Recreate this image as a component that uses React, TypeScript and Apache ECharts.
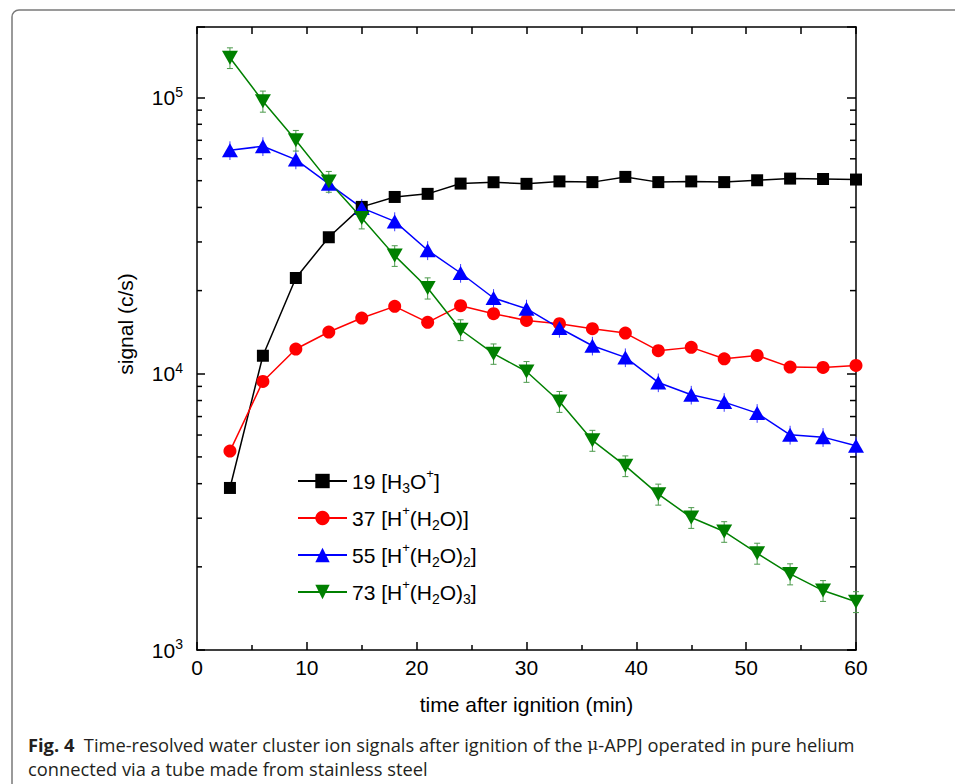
import React, { useEffect, useRef } from 'react';
import * as echarts from 'echarts';

const times = [3, 6, 9, 12, 15, 18, 21, 24, 27, 30, 33, 36, 39, 42, 45, 48, 51, 54, 57, 60];
const h3o = [3860, 11620, 22220, 31200, 40180, 43650, 44800, 48800, 49350, 48700, 49700, 49400, 51600, 49400, 49700, 49400, 50170, 50870, 50700, 50470];
const h2o1 = [5250, 9380, 12290, 14160, 15910, 17540, 15350, 17640, 16500, 15600, 15180, 14560, 14040, 12120, 12460, 11330, 11650, 10570, 10540, 10720];
const h2o2 = [64400, 66600, 59600, 48700, 39850, 35600, 27990, 23160, 18800, 17200, 14640, 12630, 11460, 9300, 8390, 7895, 7203, 6012, 5896, 5484];
const h2o3 = [139300, 97000, 70000, 49700, 36650, 26770, 20440, 14430, 11820, 10190, 7937, 5740, 4642, 3665, 3016, 2684, 2240, 1886, 1641, 1496];
// error bar half-widths (estimated)
const h2o2Err = [5000, 5200, 4600, 3800, 3100, 2800, 2200, 1800, 1450, 1330, 1130, 980, 890, 720, 650, 610, 560, 470, 460, 430];
const h2o3Err = [12000, 8500, 6000, 4300, 3200, 2300, 1800, 1250, 1000, 880, 690, 500, 400, 320, 260, 230, 195, 165, 142, 130];

const seriesNames = ['19', '37', '55', '73'];
const legendLabels: Record<string, string> = {
  '19': '19 [H{sub|3}O{sup|+}]',
  '37': '37 [H{sup|+}(H{sub|2}O)]',
  '55': '55 [H{sup|+}(H{sub|2}O){sub|2}]',
  '73': '73 [H{sup|+}(H{sub|2}O){sub|3}]',
};
const xMin = 0;
const xMax = 60;
const yMin = 1000;
const yMax = 180000;
const logMinorTicks = [2000, 3000, 4000, 5000, 6000, 7000, 8000, 9000, 20000, 30000, 40000, 50000, 60000, 70000, 80000, 90000];

const xTitle = 'time after ignition (min)';
const yTitle = 'signal (c/s)';
const captionLine1 = '{b|Fig. 4}  Time-resolved water cluster ion signals after ignition of the {m|μ}-APPJ operated in pure helium';
const captionLine2 = 'connected via a tube made from stainless steel';

const FONT = '"Liberation Sans", Arial, Helvetica, sans-serif';
const CAP_FONT = '"Open Sans", sans-serif';

export default function App() {
  const ref = useRef<HTMLDivElement>(null);
  useEffect(() => {
    if (!ref.current) return;
    const chart = echarts.init(ref.current, undefined, { renderer: 'svg' });
    const mk = (arr: number[]) => times.map((t, i) => [t, arr[i]]);
    const lineBase = (name: string, color: string, data: number[], symbol: string, size: any, rotate = 0) => ({
      name,
      type: 'line',
      data: mk(data),
      symbol,
      symbolSize: size,
      symbolRotate: rotate,
      lineStyle: { color, width: 1.5 },
      itemStyle: { color },
      xAxisIndex: 0,
      yAxisIndex: 0,
      z: 4,
    });
    const errSeries = (vals: number[], errs: number[], color: string, cap: number) => ({
      type: 'custom',
      silent: true,
      xAxisIndex: 0,
      yAxisIndex: 0,
      z: 3,
      encode: { x: 0, y: [1, 2] },
      data: times.map((t, i) => [t, vals[i] - errs[i], vals[i] + errs[i]]),
      renderItem: (params: any, api: any) => {
        const lo = api.coord([api.value(0), api.value(1)]);
        const hi = api.coord([api.value(0), api.value(2)]);
        const st = { stroke: color, lineWidth: 1 };
        const children: any[] = [
          { type: 'line', shape: { x1: lo[0], y1: lo[1], x2: hi[0], y2: hi[1] }, style: st },
        ];
        if (cap > 0) {
          children.push({ type: 'line', shape: { x1: lo[0] - cap / 2, y1: lo[1], x2: lo[0] + cap / 2, y2: lo[1] }, style: st });
          children.push({ type: 'line', shape: { x1: hi[0] - cap / 2, y1: hi[1], x2: hi[0] + cap / 2, y2: hi[1] }, style: st });
        }
        return { type: 'group', children };
      },
    });
    const tickStyle = { color: '#000', width: 1.5 };
    chart.setOption({
      animation: false,
      backgroundColor: '#fff',
      grid: { left: 197, top: 27, width: 659, height: 623, containLabel: false },
      legend: {
        orient: 'vertical',
        left: 297,
        top: 467,
        padding: 0,
        itemWidth: 49,
        itemHeight: 18,
        itemGap: 9,
        data: seriesNames,
        formatter: (n: string) => legendLabels[n],
        textStyle: {
          fontFamily: FONT,
          fontSize: 21,
          lineHeight: 28,
          color: '#000',
          rich: {
            sub: { fontFamily: FONT, fontSize: 14, lineHeight: 14, verticalAlign: 'bottom', color: '#000' },
            sup: { fontFamily: FONT, fontSize: 13, lineHeight: 21, verticalAlign: 'top', color: '#000' },
          },
        },
      },
      xAxis: [
        {
          type: 'value',
          position: 'bottom',
          min: xMin,
          max: xMax,
          interval: 10,
          axisLine: { show: true, onZero: false, lineStyle: tickStyle },
          axisTick: { show: true, inside: true, length: 8, lineStyle: tickStyle },
          minorTick: { show: true, splitNumber: 2, length: 5, lineStyle: tickStyle },
          splitLine: { show: false },
          axisLabel: { color: '#000', fontFamily: FONT, fontSize: 21, margin: 7 },
          name: xTitle,
          nameLocation: 'middle',
          nameGap: 44,
          nameTextStyle: { color: '#000', fontFamily: FONT, fontSize: 21 },
        },
        {
          type: 'value',
          position: 'top',
          min: xMin,
          max: xMax,
          interval: 5,
          axisLine: { show: true, onZero: false, lineStyle: tickStyle },
          axisTick: { show: true, inside: true, length: 7, lineStyle: tickStyle },
          splitLine: { show: false },
          axisLabel: { show: false },
        },
      ],
      yAxis: [
        {
          type: 'log',
          logBase: 10,
          position: 'left',
          min: yMin,
          max: yMax,
          axisLine: { show: true, onZero: false, lineStyle: tickStyle },
          axisTick: { show: true, inside: true, length: 8, lineStyle: tickStyle },
          splitLine: { show: false },
          axisLabel: {
            margin: 14,
            color: '#000',
            formatter: (v: number) => {
              const e = Math.round(Math.log10(v));
              return Math.abs(v - Math.pow(10, e)) < 1e-6 * v ? `{b|10}{s|${e}}` : '';
            },
            rich: {
              b: { fontFamily: FONT, fontSize: 21, lineHeight: 26, color: '#000' },
              s: { fontFamily: FONT, fontSize: 14, lineHeight: 17, verticalAlign: 'top', color: '#000' },
            },
          },
        },
        {
          type: 'log',
          logBase: 10,
          position: 'right',
          min: yMin,
          max: yMax,
          axisLine: { show: true, onZero: false, lineStyle: tickStyle },
          axisTick: { show: true, inside: true, length: 9, lineStyle: tickStyle },
          splitLine: { show: false },
          axisLabel: { show: false },
        },
      ],
      series: [
        {
          type: 'custom',
          silent: true,
          xAxisIndex: 0,
          yAxisIndex: 0,
          z: 3,
          encode: { x: 0, y: 1 },
          data: logMinorTicks.map((v) => [xMin, v]),
          renderItem: (params: any, api: any) => {
            const v = api.value(1);
            const l = api.coord([xMin, v]);
            const r = api.coord([xMax, v]);
            const st = { stroke: '#000', lineWidth: 1.5 };
            return {
              type: 'group',
              children: [
                { type: 'line', shape: { x1: l[0], y1: l[1], x2: l[0] + 5, y2: l[1] }, style: st },
                { type: 'line', shape: { x1: r[0] - 6, y1: r[1], x2: r[0], y2: r[1] }, style: st },
              ],
            };
          },
        },
        errSeries(h2o2, h2o2Err, '#3a3aff', 0),
        errSeries(h2o3, h2o3Err, '#4c9a4c', 6),
        lineBase('19', '#000000', h3o, 'rect', 12),
        lineBase('37', '#ff0000', h2o1, 'circle', 13),
        lineBase('55', '#0000ff', h2o2, 'triangle', [16, 14]),
        lineBase('73', '#008000', h2o3, 'triangle', [16, 14], 180),
      ],
      graphic: [
        {
          type: 'rect',
          silent: true,
          shape: { x: 12, y: 10, width: 960, height: 800, r: 7 },
          style: { fill: 'none', stroke: '#7a7a7a', lineWidth: 1.5 },
        },
        {
          type: 'text',
          x: 125,
          y: 324,
          rotation: Math.PI / 2,
          style: {
            text: yTitle,
            fill: '#000',
            font: `21px ${FONT}`,
            align: 'center',
            verticalAlign: 'middle',
          },
        },
        {
          type: 'text',
          x: 28,
          y: 744,
          style: {
            text: captionLine1,
            fill: '#231f20',
            font: `18.3px ${CAP_FONT}`,
            verticalAlign: 'middle',
            rich: {
              b: { fontFamily: CAP_FONT, fontSize: 18.3, fontWeight: 'bold', fill: '#231f20' },
              m: { fontFamily: '"DejaVu Serif", serif', fontSize: 17, fill: '#231f20' },
            },
          },
        },
        {
          type: 'text',
          x: 28,
          y: 768,
          style: {
            text: captionLine2,
            fill: '#231f20',
            font: `18.3px ${CAP_FONT}`,
            verticalAlign: 'middle',
          },
        },
      ],
    });
    return () => chart.dispose();
  }, []);
  return <div ref={ref} style={{ position: 'absolute', left: 0, top: 0, width: 955, height: 784, background: '#fff' }} />;
}
